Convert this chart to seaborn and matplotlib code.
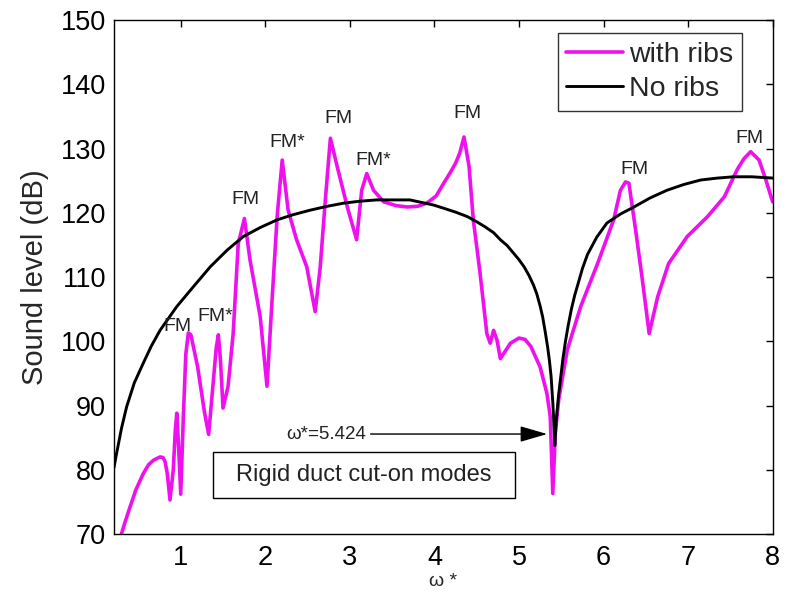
import numpy as np
import pandas as pd
import matplotlib
matplotlib.use("Agg")
import matplotlib.pyplot as plt
import seaborn as sns
from matplotlib.patches import Rectangle

# ---- data ----
x_ribs = [0.28, 0.34, 0.40, 0.47, 0.557, 0.62, 0.68, 0.755, 0.79, 0.814, 0.84, 0.873, 0.912, 0.935, 0.953, 0.975, 1.0,
          1.03, 1.06, 1.09, 1.12, 1.20, 1.28, 1.33, 1.38, 1.42, 1.445, 1.47, 1.50, 1.56,
          1.62, 1.68, 1.753, 1.82, 1.94, 2.02, 2.08, 2.14, 2.20, 2.27, 2.37, 2.49, 2.59,
          2.65, 2.71, 2.77, 2.85, 2.97, 3.08, 3.14, 3.20, 3.28, 3.40, 3.55, 3.68, 3.80,
          3.91, 4.02, 4.11, 4.19, 4.25, 4.30, 4.35, 4.41, 4.46, 4.54, 4.62, 4.66, 4.70, 4.74, 4.78,
          4.90, 5.00, 5.07, 5.14, 5.25, 5.33, 5.37, 5.40, 5.43, 5.47, 5.57, 5.73, 5.93,
          6.12, 6.20, 6.26, 6.30, 6.38, 6.46, 6.54, 6.64, 6.77, 6.99, 7.23, 7.43, 7.58,
          7.66, 7.74, 7.84, 7.92, 8.00]
y_ribs = [69.2, 71.8, 74.2, 76.9, 79.4, 80.8, 81.5, 82.0, 81.9, 81.3, 79.5, 75.3, 80.0, 86.0, 88.8, 83.5, 76.2,
          88.0, 98.0, 101.3, 101.0, 96.0, 89.0, 85.5, 93.0, 99.0, 101.0, 97.0, 89.6, 93.0,
          101.2, 115.2, 119.1, 112.6, 103.8, 93.0, 106.4, 119.4, 128.2, 120.4, 115.8, 111.6, 104.6,
          111.6, 122.0, 131.6, 127.2, 120.9, 115.8, 123.5, 126.1, 123.5, 121.7, 121.1, 120.9, 121.0,
          121.5, 122.6, 124.6, 126.3, 127.7, 129.3, 131.8, 127.2, 118.9, 110.6, 101.2, 99.7, 101.7, 100.2, 97.3,
          99.7, 100.5, 100.3, 99.2, 96.0, 91.9, 88.3, 76.3, 85.7, 90.9, 98.6, 105.4, 112.1,
          118.9, 123.5, 124.8, 124.6, 117.3, 109.5, 101.2, 106.9, 112.1, 116.3, 119.4, 122.5, 126.7,
          128.4, 129.5, 128.2, 125.1, 121.7]

x_noribs = [0.21, 0.242, 0.30, 0.36, 0.45, 0.557, 0.65, 0.755, 0.953, 1.15, 1.35, 1.55,
            1.74, 1.94, 2.14, 2.33, 2.53, 2.73, 2.93, 3.12, 3.32, 3.60, 3.71, 3.99, 4.11,
            4.25, 4.39, 4.50, 4.60, 4.70, 4.78, 4.86, 4.93, 5.00, 5.06, 5.12, 5.17, 5.21,
            5.25, 5.28, 5.31, 5.34, 5.36, 5.38, 5.40, 5.41, 5.424, 5.44, 5.45, 5.47, 5.49,
            5.52, 5.55, 5.58, 5.62, 5.66, 5.70, 5.75, 5.81, 5.92, 6.04, 6.20, 6.36, 6.55,
            6.75, 6.95, 7.15, 7.35, 7.54, 7.75, 8.00]
y_noribs = [80.3, 82.6, 86.5, 89.8, 93.5, 96.6, 99.2, 101.7, 105.4, 108.5, 111.6, 114.2,
            116.3, 117.7, 118.9, 119.7, 120.4, 121.0, 121.5, 121.8, 122.0, 122.0, 122.0, 121.2, 120.7,
            120.1, 119.4, 118.6, 117.8, 116.9, 115.8, 114.9, 113.8, 112.7, 111.6, 110.2, 108.8, 107.4,
            105.5, 103.8, 101.5, 99.0, 97.0, 94.5, 90.5, 88.0, 83.8, 87.5, 89.0, 91.8, 94.0,
            97.3, 100.0, 102.3, 105.0, 107.2, 109.0, 111.3, 113.5, 116.2, 118.4, 119.8, 120.9, 122.3,
            123.5, 124.4, 125.1, 125.4, 125.6, 125.6, 125.4]

fm_x = [0.96, 1.41, 1.77, 2.26, 2.87, 3.28, 4.39, 6.37, 7.72]
fm_y = [102.3, 103.9, 122.0, 131.0, 134.6, 128.2, 135.4, 126.8, 131.5]
fm_text = ["FM", "FM*", "FM", "FM*", "FM", "FM*", "FM", "FM", "FM"]

x_ticks = [1, 2, 3, 4, 5, 6, 7, 8]
y_ticks = [70, 80, 90, 100, 110, 120, 130, 140, 150]
cut_on = 5.424

df_r = pd.DataFrame({"x": x_ribs, "y": y_ribs})
df_n = pd.DataFrame({"x": x_noribs, "y": y_noribs})

sns.set_style("white")
plt.rcParams["font.family"] = ["Liberation Sans", "DejaVu Sans"]

fig = plt.figure(figsize=(7.86, 5.99), dpi=100)
ax = fig.add_axes([0.1454, 0.1085, 0.8376, 0.8581])

sns.lineplot(data=df_r, x="x", y="y", ax=ax, color="#ee11ee", lw=2.6,
             label="with ribs", sort=False, estimator=None)
sns.lineplot(data=df_n, x="x", y="y", ax=ax, color="black", lw=2.1,
             label="No ribs", sort=False, estimator=None)

ax.set_xlim(0.214, 8.0)
ax.set_ylim(70, 150)
ax.set_xticks(x_ticks)
ax.set_yticks(y_ticks)
ax.tick_params(direction="in", length=5, width=1, top=True, right=True,
               labelsize=19.5, colors="black")
ax.tick_params(axis="x", pad=8)
ax.tick_params(axis="y", pad=6)
for s in ax.spines.values():
    s.set_visible(True)
    s.set_color("black")
    s.set_linewidth(1.0)

ax.set_ylabel("Sound level (dB)", fontsize=21, labelpad=8)
ax.set_xlabel("ω *", fontsize=14, labelpad=1)

for tx, ty, t in zip(fm_x, fm_y, fm_text):
    ax.text(tx, ty, t, ha="center", va="center", fontsize=14, color="#222222")

# cut-on annotation
ax.annotate("ω*=%.3f" % cut_on, xy=(5.333, 85.56), xytext=(3.19, 85.56),
            ha="right", va="center", fontsize=13.5, color="#222222",
            arrowprops=dict(arrowstyle="-|>,head_length=1.2,head_width=0.35",
                            mutation_scale=14, color="black", lw=1,
                            shrinkA=1, shrinkB=0, relpos=(1, 0.5)))

ax.add_patch(Rectangle((1.379, 75.6), 4.958 - 1.379, 82.8 - 75.6, fill=False,
                       edgecolor="black", lw=1.0, zorder=3))
ax.text((1.379 + 4.958) / 2, 79.2, "Rigid duct cut-on modes", ha="center",
        va="center", fontsize=17, color="#222222")

leg = ax.legend(loc="upper right", bbox_to_anchor=(0.953, 0.974), borderaxespad=0,
                fontsize=20.5, frameon=True, fancybox=False, handlelength=2.0,
                handletextpad=0.2, labelspacing=0.3, borderpad=0.3)
leg.get_frame().set_edgecolor("black")
leg.get_frame().set_linewidth(1.0)

fig.savefig("out.png", dpi=100)
